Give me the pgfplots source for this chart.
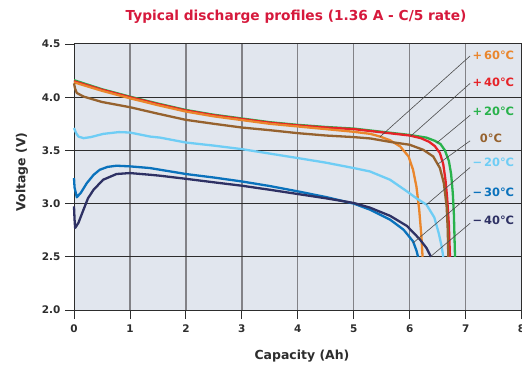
\documentclass[border=0pt]{standalone}
\usepackage{fontspec}
\setmainfont{DejaVu Sans}
\usepackage{pgfplots}
\pgfplotsset{compat=1.18}
\definecolor{bgc}{RGB}{225,230,238}
\definecolor{c60}{RGB}{234,134,44}
\definecolor{c40}{RGB}{230,35,40}
\definecolor{c20}{RGB}{40,178,75}
\definecolor{c0}{RGB}{150,98,46}
\definecolor{cm20}{RGB}{110,205,245}
\definecolor{cm30}{RGB}{10,114,188}
\definecolor{cm40}{RGB}{46,49,100}
\definecolor{ttl}{RGB}{214,25,60}
\definecolor{tk}{RGB}{45,45,45}
\definecolor{vgrid}{RGB}{130,130,135}
\begin{document}
\begin{tikzpicture}
\begin{axis}[
  at={(74bp,55bp)}, anchor=south west,
  scale only axis, width=447.6bp, height=266bp,
  xmin=0, xmax=8, ymin=2, ymax=4.5,
  xtick={0,1,2,3,4,5,6,7,8}, xticklabels={0,1,2,3,4,5,6,7,8},
  ytick={2,2.5,3,3.5,4,4.5}, yticklabels={2.0,2.5,3.0,3.5,4.0,4.5},
  xtick pos=left, ytick pos=left,
  tick align=outside, major tick length=9bp,
  tick style={tk, line width=0.9bp},
  axis line style={tk, line width=1bp},
  axis background/.style={fill=bgc},
  ticklabel style={font=\fontsize{10.5}{12}\selectfont\bfseries, text=tk},
  xticklabel style={yshift=-2bp},
  yticklabel style={xshift=-1bp},
  clip=false,
]
% grid
\pgfplotsinvokeforeach{1,2,3,4,5,6,7}{
  \draw[vgrid, line width=1.4bp] (axis cs:#1,2) -- (axis cs:#1,4.5);
}
\pgfplotsinvokeforeach{2.5,3,3.5,4}{
  \draw[tk, line width=0.9bp] (axis cs:0,#1) -- (axis cs:8,#1);
}
% +20 green
\addplot[c20, line width=2.3bp, line join=round] coordinates {
(0,4.16) (0.5,4.075) (1,4.005) (1.5,3.94) (2,3.88) (2.5,3.835) (3,3.8) (3.5,3.765) (4,3.74) (4.5,3.72) (5,3.705) (5.5,3.675) (6,3.645) (6.3,3.62) (6.45,3.59) (6.55,3.56) (6.63,3.5) (6.7,3.4) (6.74,3.28) (6.77,3.1) (6.79,2.9) (6.81,2.5)};
% +40 red
\addplot[c40, line width=2.3bp, line join=round] coordinates {
(0,4.15) (0.5,4.07) (1,4.0) (1.5,3.935) (2,3.875) (2.5,3.83) (3,3.795) (3.5,3.76) (4,3.735) (4.5,3.715) (5,3.70) (5.5,3.67) (6,3.64) (6.2,3.615) (6.35,3.58) (6.45,3.54) (6.54,3.475) (6.6,3.37) (6.64,3.22) (6.67,3.05) (6.70,2.8) (6.72,2.5)};
% +60 orange
\addplot[c60, line width=2.3bp, line join=round] coordinates {
(0,4.14) (0.5,4.06) (1,3.99) (1.5,3.925) (2,3.865) (2.5,3.82) (3,3.785) (3.5,3.75) (4,3.725) (4.5,3.70) (5,3.675) (5.3,3.655) (5.47,3.63) (5.65,3.595) (5.83,3.537) (5.98,3.443) (6.06,3.318) (6.12,3.161) (6.17,2.943) (6.21,2.69) (6.23,2.5)};
% 0 brown
\addplot[c0, line width=2.3bp, line join=round] coordinates {
(0,4.13) (0.02,4.08) (0.05,4.04) (0.17,4.006) (0.5,3.955) (1,3.906) (1.5,3.845) (2,3.787) (2.5,3.75) (3,3.715) (3.5,3.69) (4,3.662) (4.5,3.64) (5,3.625) (5.3,3.612) (5.65,3.58) (6,3.553) (6.24,3.506) (6.42,3.443) (6.54,3.334) (6.61,3.193) (6.66,2.974) (6.68,2.755) (6.69,2.5)};
% -20 light blue
\addplot[cm20, line width=2.3bp, line join=round] coordinates {
(0,3.71) (0.04,3.66) (0.08,3.63) (0.17,3.615) (0.3,3.625) (0.52,3.655) (0.8,3.672) (1,3.668) (1.36,3.63) (1.54,3.62) (2,3.574) (2.5,3.545) (3,3.512) (3.5,3.47) (4,3.428) (4.5,3.385) (5,3.334) (5.29,3.302) (5.65,3.224) (5.95,3.115) (6.12,3.05) (6.3,2.99) (6.44,2.87) (6.52,2.72) (6.57,2.6) (6.6,2.5)};
% -30 blue
\addplot[cm30, line width=2.3bp, line join=round] coordinates {
(0,3.24) (0.01,3.15) (0.05,3.06) (0.12,3.10) (0.23,3.193) (0.35,3.27) (0.46,3.318) (0.6,3.345) (0.76,3.356) (1,3.35) (1.36,3.334) (2,3.278) (2.5,3.245) (3,3.208) (3.5,3.165) (4,3.115) (4.5,3.062) (5,3.0) (5.29,2.943) (5.65,2.849) (5.89,2.755) (6.06,2.645) (6.12,2.56) (6.15,2.5)};
% -40 navy
\addplot[cm40, line width=2.3bp, line join=round] coordinates {
(0,2.974) (0.01,2.85) (0.02,2.771) (0.08,2.82) (0.17,2.943) (0.25,3.05) (0.35,3.13) (0.52,3.224) (0.76,3.278) (1,3.287) (1.36,3.271) (1.54,3.262) (2,3.233) (2.5,3.2) (3,3.168) (3.5,3.13) (4,3.09) (4.5,3.05) (5,3.006) (5.29,2.962) (5.65,2.885) (5.95,2.79) (6.18,2.665) (6.3,2.583) (6.38,2.5)};
% leader lines
\draw[black!70, line width=0.6bp] (axis cs:7.08,4.388) -- (axis cs:5.47,3.628);
\draw[black!70, line width=0.6bp] (axis cs:7.08,4.130) -- (axis cs:6.02,3.635);
\draw[black!70, line width=0.6bp] (axis cs:7.08,3.830) -- (axis cs:6.48,3.569);
\draw[black!70, line width=0.6bp] (axis cs:7.08,3.590) -- (axis cs:6.50,3.37);
\draw[black!70, line width=0.6bp] (axis cs:7.08,3.340) -- (axis cs:6.30,2.99);
\draw[black!70, line width=0.6bp] (axis cs:7.08,3.080) -- (axis cs:6.06,2.63);
\draw[black!70, line width=0.6bp] (axis cs:7.08,2.815) -- (axis cs:6.38,2.505);
% labels
\tikzset{lab/.style={anchor=west, inner sep=0pt, font=\fontsize{11.5}{13}\selectfont\bfseries}}
\node[lab, text=c60] at (axis cs:7.12,4.394) {+\,60°C};
\node[lab, text=c40] at (axis cs:7.12,4.140) {+\,40°C};
\node[lab, text=c20] at (axis cs:7.12,3.871) {+\,20°C};
\node[lab, text=c0] at (axis cs:7.25,3.617) {0°C};
\node[lab, text=cm20] at (axis cs:7.12,3.392) {−\,20°C};
\node[lab, text=cm30] at (axis cs:7.12,3.110) {−\,30°C};
\node[lab, text=cm40] at (axis cs:7.12,2.840) {−\,40°C};
\end{axis}
\node[font=\fontsize{13.8}{16}\selectfont\bfseries, text=ttl] at (296bp,348bp) {Typical discharge profiles (1.36 A - C/5 rate)};
\node[font=\fontsize{12.5}{15}\selectfont\bfseries, text=tk] at (302bp,9bp) {Capacity (Ah)};
\node[font=\fontsize{12.5}{15}\selectfont\bfseries, text=tk, rotate=90] at (22bp,193bp) {Voltage (V)};
\pgfresetboundingbox
\path[use as bounding box] (0,0) rectangle (522bp,365bp);
\end{tikzpicture}
\end{document}
